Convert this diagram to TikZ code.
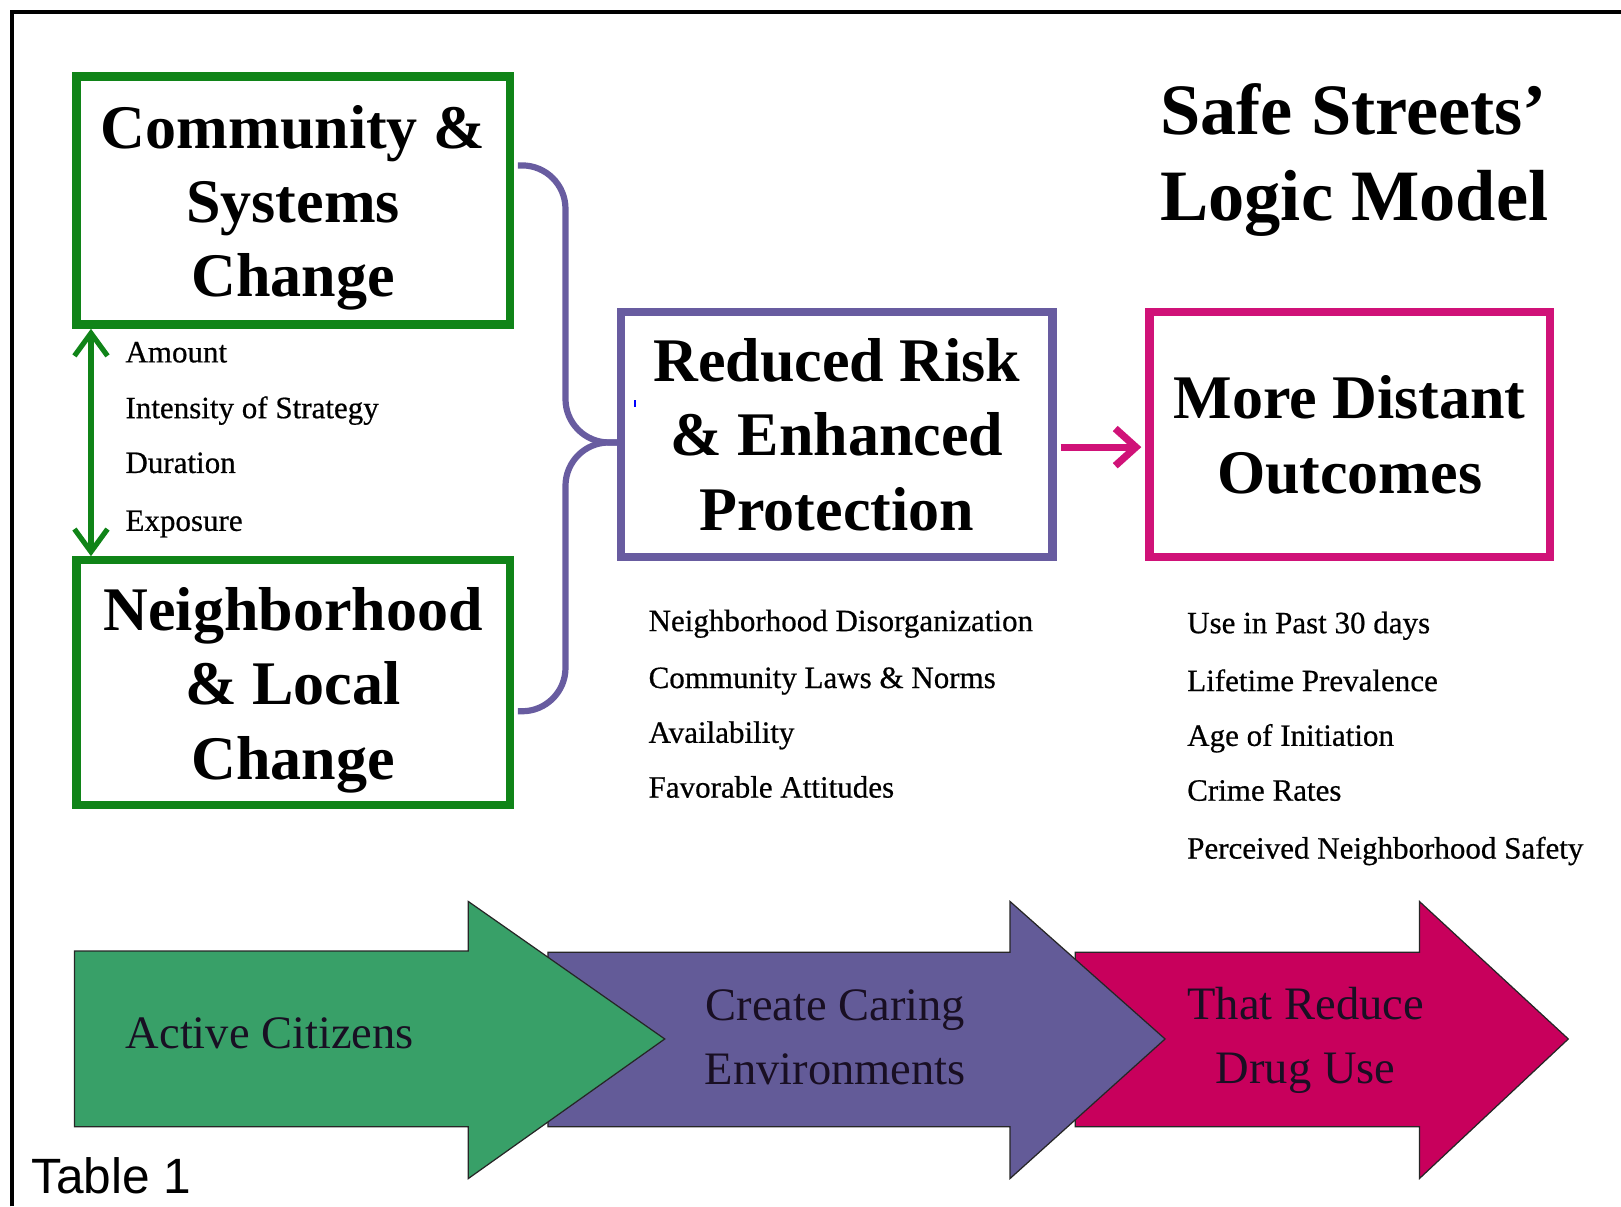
\documentclass[tikz,border=0pt]{standalone}
\usepackage{fontspec}
\setmainfont{Liberation Serif}
\newfontfamily\arialf{Liberation Sans}
\newfontfamily\listfont[FakeBold=0.6]{Liberation Serif}
\usetikzlibrary{arrows.meta,calc}
\definecolor{boxgreen}{RGB}{16,132,24}
\definecolor{boxpurple}{RGB}{104,92,160}
\definecolor{boxmagenta}{RGB}{208,18,120}
\definecolor{fillgreen}{RGB}{56,160,104}
\definecolor{fillpurple}{RGB}{99,91,152}
\definecolor{fillmagenta}{RGB}{200,0,92}
\definecolor{arrtext}{RGB}{25,15,35}
\newcommand\lowtxt[1]{\raisebox{-3.5pt}[\height][\depth]{#1}}
\tikzset{
  bigbox/.style={draw, line width=4pt, fill=white, inner sep=0pt, align=center,
    font=\fontsize{30pt}{36pt}\selectfont\bfseries},
  listtxt/.style={anchor=west, inner sep=0pt, text height=11pt, text depth=3.5pt,
    font=\listfont\fontsize{15pt}{18pt}\selectfont},
  arrtxt/.style={align=center, inner sep=0pt, text=arrtext, font=\fontsize{22.5pt}{31pt}\selectfont},
  bigarrow/.style={draw=black!85, line width=0.6pt, line join=miter},
  bracepath/.style={draw=boxpurple, line width=3pt, rounded corners=21pt},
}
\begin{document}
\begin{tikzpicture}[x=0.5pt,y=-0.5pt]
\useasboundingbox (0,0) rectangle (1568,1167);
% outer frame
\draw[line width=2pt] (12,1167) -- (12,12) -- (1568,12);

% boxes
\node[bigbox, draw=boxgreen, minimum width=209.5pt, minimum height=120pt] (cs) at (283.5,194) {\lowtxt{Community \&}\\\lowtxt{Systems}\\\lowtxt{Change}};
\node[bigbox, draw=boxgreen, minimum width=209.5pt, minimum height=118.5pt] (nl) at (283.5,660.5) {\lowtxt{Neighborhood}\\\lowtxt{\& Local}\\\lowtxt{Change}};
\node[bigbox, draw=boxpurple, minimum width=208.5pt, minimum height=118.5pt] (rr) at (809.5,420.5) {Reduced Risk\\\& Enhanced\\Protection};
\node[bigbox, draw=boxmagenta, minimum width=193.5pt, minimum height=118.5pt] (md) at (1305.5,420.5) {More Distant\\Outcomes};

% title
\node[anchor=west, align=left, inner sep=0pt, font=\fontsize{35pt}{41.5pt}\selectfont\bfseries] (title) at (1122,155) {Safe Streets’\\Logic Model};

% brace connector
\coordinate (bx) at (547,428);
\draw[bracepath] ([xshift=2pt,yshift=17pt]cs.east) -| (bx) -- ([yshift=-3.75pt]rr.west);
\draw[bracepath] ([xshift=2pt,yshift=-13.75pt]nl.east) -| (bx) -- ([yshift=-3.75pt]rr.west);

% green double arrow
\coordinate (gx) at (88,0);
\draw[boxgreen, line width=2.5pt, {Straight Barb[length=11pt,width=16pt]}-{Straight Barb[length=11pt,width=16pt]}]
  (cs.south -| gx) -- (nl.north -| gx);

% magenta arrow
\draw[boxmagenta, line width=3.5pt, -{Straight Barb[length=10pt,width=18pt]}]
  ([xshift=2pt,yshift=-6pt]rr.east) -- ([xshift=-2pt,yshift=-6pt]md.west);

% stray blue mark
\draw[blue, line width=1pt] (614,387) -- (614,394);

% left list
\node[listtxt] (l1) at (121,343) {Amount};
\node[listtxt] (l2) at (121,397) {Intensity of Strategy};
\node[listtxt] (l3) at (121,450) {Duration};
\node[listtxt] (l4) at (121,506) {Exposure};

% center list
\node[listtxt] (c1) at (627,603) {Neighborhood Disorganization};
\node[listtxt] (c2) at (627,658) {Community Laws \& Norms};
\node[listtxt] (c3) at (627,711) {Availability};
\node[listtxt] (c4) at (627,764) {Favorable Attitudes};

% right list
\node[listtxt] (r1) at (1148,605) {Use in Past 30 days};
\node[listtxt] (r2) at (1148,661) {Lifetime Prevalence};
\node[listtxt] (r3) at (1148,714) {Age of Initiation};
\node[listtxt] (r4) at (1148,767) {Crime Rates};
\node[listtxt] (r5) at (1148,823) {Perceived Neighborhood Safety};

% big bottom arrows
\fill[fillmagenta, bigarrow] (1040,921) -- (1373,921) -- (1373,872) -- (1517,1005) -- (1373,1140) -- (1373,1090) -- (1040,1090) -- cycle;
\fill[fillpurple, bigarrow] (530,921) -- (977,921) -- (977,872) -- (1127,1005) -- (977,1140) -- (977,1090) -- (530,1090) -- cycle;
\fill[fillgreen, bigarrow] (72,920) -- (453,920) -- (453,872) -- (643,1005) -- (453,1140) -- (453,1090) -- (72,1090) -- cycle;

\node[arrtxt] (ac) at (261,1000) {Active Citizens};
\node[arrtxt] (cc) at (808,1003) {Create Caring\\Environments};
\node[arrtxt] (tr) at (1263,1006) {That Reduce\\Drug Use};

\node[anchor=west, inner sep=0pt, font=\arialf\fontsize{24pt}{28pt}\selectfont] (tab) at (30,1137) {Table 1};
\end{tikzpicture}
\end{document}
